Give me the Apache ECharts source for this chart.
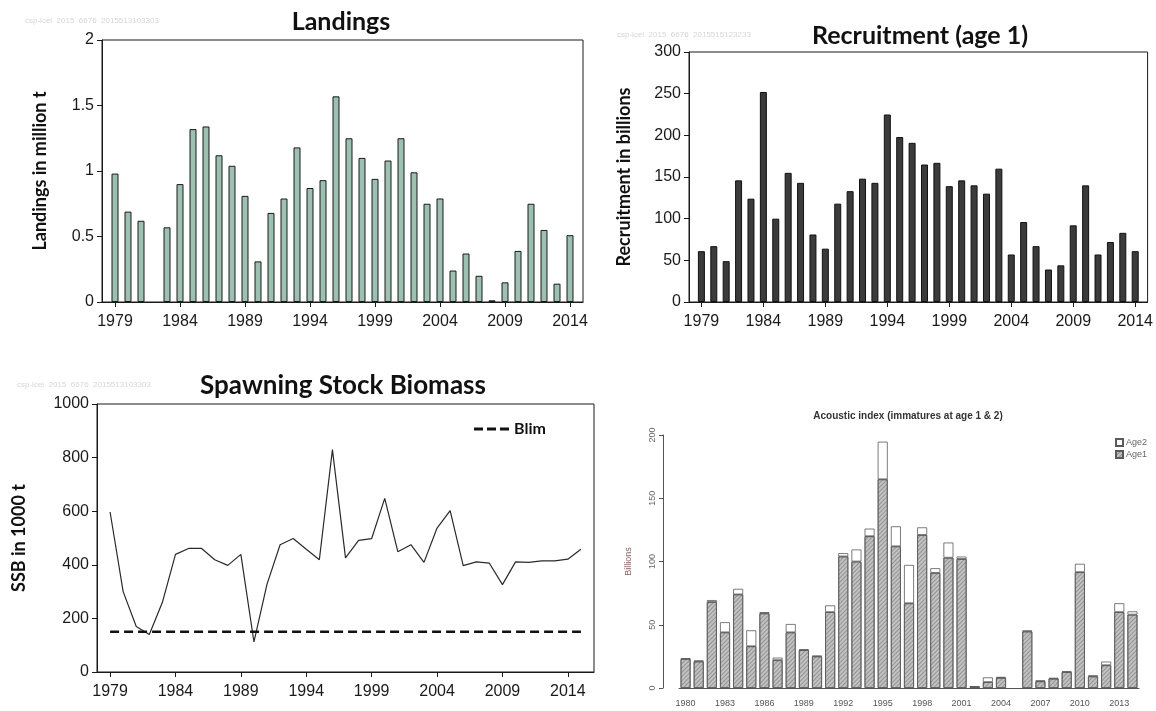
<!DOCTYPE html>
<html lang="en">
<head>
<meta charset="UTF-8">
<title>Stock summary</title>
<script src="https://cdn.jsdelivr.net/npm/echarts@6/dist/echarts.min.js"></script>
<style>body{margin:0;background:#fff}</style>
</head>
<body>
<div id="main" style="width:1156px;height:711px;"></div>
<script>
// years and values
const stockYears = [1979,1980,1981,1982,1983,1984,1985,1986,1987,1988,1989,1990,1991,1992,1993,1994,1995,1996,1997,1998,1999,2000,2001,2002,2003,2004,2005,2006,2007,2008,2009,2010,2011,2012,2013,2014];
const landings = [0.98,0.69,0.62,null,0.57,0.90,1.32,1.34,1.12,1.04,0.81,0.31,0.68,0.79,1.18,0.87,0.93,1.57,1.25,1.10,0.94,1.08,1.25,0.99,0.75,0.79,0.24,0.37,0.20,0.013,0.15,0.39,0.75,0.55,0.14,0.51];
const recruitment = [61,67,49,146,124,252,100,155,143,81,64,118,133,148,143,225,198,191,165,167,139,146,140,130,160,57,96,67,39,44,92,140,57,72,83,61];
const ssbYears = [1979,1980,1981,1982,1983,1984,1985,1986,1987,1988,1989,1990,1991,1992,1993,1994,1995,1996,1997,1998,1999,2000,2001,2002,2003,2004,2005,2006,2007,2008,2009,2010,2011,2012,2013,2014,2015];
const ssb = [597,300,170,140,260,439,461,461,419,398,439,112,328,475,498,458,419,830,426,491,498,648,449,475,409,537,602,397,411,406,326,411,409,415,415,421,458];
const BLIM = 150;
const acousticYears = [1980,1981,1982,1983,1984,1985,1986,1987,1988,1989,1990,1991,1992,1993,1994,1995,1996,1997,1998,1999,2000,2001,2002,2003,2004,2005,2006,2007,2008,2009,2010,2011,2012,2013,2014];
const age1 = [23,21,68,44,74,33,59,22,44,30,25,60,104,100,120,165,112,67,121,91,103,102,1,4.7,8,null,44.7,5.3,7.4,12.6,91.6,9.2,18,60,58];
const age2 = [0.6,0.8,1.5,8,4.4,12.6,1,2,6.6,0.6,0.5,5.3,2.6,9.5,6,29.7,15.8,30.3,6,3.7,12,1.9,0.3,3.7,0.8,null,0.8,0.7,0.5,0.6,6.6,0.8,2.9,7,2.6];

const chart = echarts.init(document.getElementById('main'));

const tickFont = 'Liberation Sans';
const headFont = 'Lato';
const ink = '#1a1a1a';

// pad one empty year on each side so the box edges fall half way like the original
const landAxis = [1978, ...stockYears, 2015];
const ssbAxis = [1978, ...ssbYears, 2016];
const every5 = (i) => i > 0 && (i - 1) % 5 === 0;

function yearAxis(gridIndex, cats) {
  return {
    type: 'category', gridIndex, data: cats.map(String), boundaryGap: false,
    axisLine: { lineStyle: { color: ink } },
    axisTick: { length: 5, interval: every5, lineStyle: { color: ink } },
    axisLabel: { interval: every5, margin: 12, fontSize: 16, color: ink, fontFamily: tickFont },
    splitLine: { show: false }
  };
}

function valueAxis(gridIndex, max, step, name, gap) {
  return {
    type: 'value', gridIndex, min: 0, max, interval: step,
    name, nameLocation: 'middle', nameGap: gap, nameRotate: 90,
    nameTextStyle: { fontFamily: headFont, fontWeight: 'bold', fontSize: 18, color: '#111' },
    axisLine: { show: true, lineStyle: { color: ink } },
    axisTick: { show: true, length: 5, lineStyle: { color: ink } },
    axisLabel: { margin: 8, fontSize: 16, color: ink, fontFamily: tickFont, formatter: (v) => String(v) },
    splitLine: { show: false }
  };
}

const boxed = { show: true, borderColor: ink, borderWidth: 1, backgroundColor: 'transparent' };

const headStyle = { fontFamily: headFont, fontWeight: 'bold', fontSize: 25, color: '#111' };

// dashed-line legend key for Blim
const dashIcon = 'path://M0,0H9V3H0Z M13,0H22V3H13Z M26,0H35V3H26Z';

const option = {
  animation: false,
  backgroundColor: '#fff',
  title: [
    { text: 'Landings', left: 341, top: 9, textAlign: 'center', padding: 0, textStyle: headStyle },
    { text: 'Recruitment (age 1)', left: 920, top: 23, textAlign: 'center', padding: 0, textStyle: headStyle },
    { text: 'Spawning Stock Biomass', left: 343, top: 373, textAlign: 'center', padding: 0,
      textStyle: { ...headStyle, fontSize: 26 } },
    { text: 'Acoustic index (immatures at age 1 & 2)', left: 908, top: 411, textAlign: 'center', padding: 0,
      textStyle: { fontFamily: tickFont, fontWeight: 'bold', fontSize: 10, color: '#333' } }
  ],
  graphic: [
    { type: 'text', left: 25, top: 17, style: { text: 'csp-icel  2015  6676  2015513103303', fontSize: 8, fill: '#d6d6d6' } },
    { type: 'text', left: 617, top: 31, style: { text: 'csp-icel  2015  6676  2015515123233', fontSize: 8, fill: '#d6d6d6' } },
    { type: 'text', left: 17, top: 381, style: { text: 'csp-icel  2015  6676  2015513103303', fontSize: 8, fill: '#d6d6d6' } }
  ],
  legend: [
    { data: [{ name: 'Blim', icon: dashIcon }], left: 474, top: 421, itemWidth: 35, itemHeight: 3, padding: 0,
      textStyle: { fontFamily: headFont, fontWeight: 'bold', fontSize: 16, color: '#111' } },
    { data: ['Age2', 'Age1'], orient: 'vertical', left: 1115, top: 438, padding: 0, itemGap: 3,
      itemWidth: 7, itemHeight: 7, icon: 'rect',
      textStyle: { fontFamily: tickFont, fontSize: 9, color: '#666', padding: [0, 0, 0, -2] } }
  ],
  grid: [
    { left: 102, top: 40, width: 481, height: 262, ...boxed },
    { left: 689, top: 52, width: 462, height: 250, ...boxed },
    { left: 97, top: 404, width: 497, height: 268, ...boxed },
    { left: 679, top: 435, width: 460, height: 253, show: false }
  ],
  xAxis: [
    yearAxis(0, landAxis),
    yearAxis(1, landAxis),
    yearAxis(2, ssbAxis),
    {
      type: 'category', gridIndex: 3, data: acousticYears.map(String), offset: 2,
      axisLine: { lineStyle: { color: '#555' } },
      axisTick: { alignWithLabel: true, interval: 0, length: 4, lineStyle: { color: '#555' } },
      axisLabel: { interval: 2, margin: 9, fontSize: 9, color: '#555', fontFamily: tickFont }
    }
  ],
  yAxis: [
    valueAxis(0, 2, 0.5, 'Landings in million t', 53),
    valueAxis(1, 300, 50, 'Recruitment in billions', 56),
    valueAxis(2, 1000, 200, 'SSB in 1000 t', 69),
    {
      type: 'value', gridIndex: 3, min: 0, max: 200, interval: 50, offset: 16,
      name: 'Billions', nameLocation: 'middle', nameGap: 30, nameRotate: 90,
      nameTextStyle: { fontFamily: tickFont, fontSize: 9, color: '#8a6464' },
      axisLine: { show: true, lineStyle: { color: '#555' } },
      axisTick: { show: true, length: 4, lineStyle: { color: '#555' } },
      axisLabel: { rotate: 90, margin: 6, fontSize: 9, color: '#666', fontFamily: tickFont },
      splitLine: { show: false }
    }
  ],
  series: [
    {
      name: 'Landings', type: 'bar', xAxisIndex: 0, yAxisIndex: 0, barWidth: 7,
      data: [null, ...landings, null],
      itemStyle: { color: '#9cc0b2', borderColor: ink, borderWidth: 1 }
    },
    {
      name: 'Recruitment', type: 'bar', xAxisIndex: 1, yAxisIndex: 1, barWidth: 7,
      data: [null, ...recruitment, null],
      itemStyle: { color: '#3b3b3b', borderColor: '#111', borderWidth: 1 }
    },
    {
      name: 'SSB', type: 'line', xAxisIndex: 2, yAxisIndex: 2, symbol: 'none',
      data: [null, ...ssb, null],
      lineStyle: { color: '#2a2a2a', width: 1.2 }
    },
    {
      name: 'Blim', type: 'line', xAxisIndex: 2, yAxisIndex: 2, symbol: 'none',
      data: [null, ...ssbYears.map(() => BLIM), null],
      lineStyle: { color: '#111', width: 2.5, type: [9, 5] },
      itemStyle: { color: '#111' }
    },
    {
      name: 'Age1', type: 'bar', xAxisIndex: 3, yAxisIndex: 3, stack: 'acoustic', barWidth: 10,
      data: age1,
      itemStyle: {
        color: '#c2c2c2', borderColor: '#5a5a5a', borderWidth: 0.8,
        decal: { symbol: 'rect', symbolSize: 1, dashArrayX: [1, 0], dashArrayY: [1, 2], rotation: -Math.PI / 4, color: 'rgba(100,100,100,0.5)' }
      }
    },
    {
      name: 'Age2', type: 'bar', xAxisIndex: 3, yAxisIndex: 3, stack: 'acoustic', barWidth: 10,
      data: age2,
      itemStyle: { color: '#fff', borderColor: '#5a5a5a', borderWidth: 0.8 }
    }
  ]
};

chart.setOption(option);
</script>
</body>
</html>
